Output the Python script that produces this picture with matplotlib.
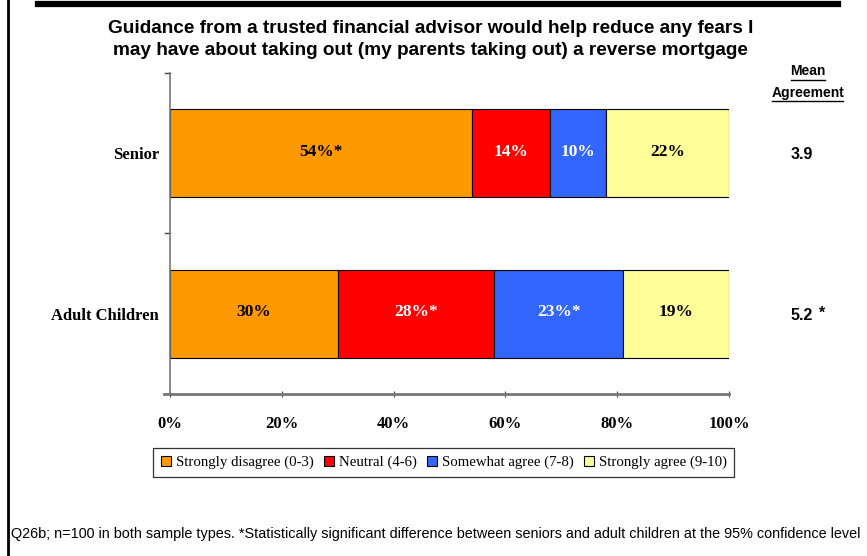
import numpy as np
import matplotlib.pyplot as plt
from matplotlib.lines import Line2D
from matplotlib.patches import Patch

# ---------- Data ----------
groups = ["Adult Children", "Senior"]
series = ["Strongly disagree (0-3)", "Neutral (4-6)", "Somewhat agree (7-8)", "Strongly agree (9-10)"]
values = {
    "Strongly disagree (0-3)": [30, 54],
    "Neutral (4-6)": [28, 14],
    "Somewhat agree (7-8)": [23, 10],
    "Strongly agree (9-10)": [19, 22],
}
# significance markers per segment (adult children, senior)
sig = {
    "Strongly disagree (0-3)": ["", "*"],
    "Neutral (4-6)": ["*", ""],
    "Somewhat agree (7-8)": ["*", ""],
    "Strongly agree (9-10)": ["", ""],
}
mean_agreement = [5.2, 3.9]
mean_sig = ["*", ""]
xticks = [0, 20, 40, 60, 80, 100]

colors = ["#FF9900", "#FF0000", "#3366FF", "#FFFF99"]
text_colors = ["black", "white", "white", "black"]

SERIF = "Liberation Serif"
SANS = "Liberation Sans"

fig = plt.figure(figsize=(8.67, 5.56), dpi=100)
ax = fig.add_axes([0.196, 0.2914, 0.645, 0.5773])

y = np.arange(len(groups))
left = np.zeros(len(groups))
for name, col, tcol in zip(series, colors, text_colors):
    vals = np.array(values[name], dtype=float)
    ax.barh(y, vals, left=left, height=0.55, color=col, edgecolor="black",
            linewidth=0.8, label=name)
    for i, v in enumerate(vals):
        ax.text(left[i] + v / 2, y[i] + 0.01, f"{v:.0f}%{sig[name][i]}", ha="center", va="center",
                fontsize=12.5, fontweight="bold", family=SERIF, color=tcol)
    left += vals

ax.set_xlim(0, 100)
ax.set_ylim(-0.5, 1.5)
ax.set_xticks(xticks)
ax.set_xticklabels([f"{t}%" for t in xticks], fontsize=12, fontweight="bold", family=SERIF)
ax.set_yticks(y)
ax.set_yticklabels(groups, fontsize=12, fontweight="bold", family=SERIF)
ax.tick_params(axis="y", length=0, pad=8)
ax.tick_params(axis="x", length=5, direction="inout", color="#444444", pad=13)

# category boundary ticks on the left axis
for b in [-0.5, 0.5, 1.5]:
    ax.plot([-0.8, 0], [b, b], color="#444444", lw=1, clip_on=False)

for s in ["top", "right"]:
    ax.spines[s].set_visible(False)
ax.spines["left"].set_color("#777777")
ax.spines["left"].set_linewidth(1.2)
ax.spines["bottom"].set_color("#777777")
ax.spines["bottom"].set_linewidth(2)
ax.spines["bottom"].set_bounds(-1, 100)

# mean agreement column
fig.text(0.932, 0.872, "Mean", ha="center", va="center", fontsize=10, fontweight="bold", family=SANS)
fig.text(0.932, 0.833, "Agreement", ha="center", va="center", fontsize=10, fontweight="bold", family=SANS)
fig.add_artist(Line2D([0.912, 0.952], [0.857, 0.857], color="black", lw=1))
fig.add_artist(Line2D([0.891, 0.972], [0.818, 0.818], color="black", lw=1))
for i, m in enumerate(mean_agreement):
    ax.text(1.13, y[i] - 0.01, f"{m:.1f}", transform=ax.get_yaxis_transform(), ha="center", va="center",
            fontsize=11.5, fontweight="bold", family=SANS)
    if mean_sig[i]:
        ax.text(1.16, y[i] - 0.0, mean_sig[i], transform=ax.get_yaxis_transform(), ha="left",
                va="center", fontsize=11.5, fontweight="bold", family=SANS)

# title
fig.text(0.497, 0.949, "Guidance from a trusted financial advisor would help reduce any fears I",
         ha="center", va="center", fontsize=13.7, fontweight="bold", family=SANS)
fig.text(0.497, 0.910, "may have about taking out (my parents taking out) a reverse mortgage",
         ha="center", va="center", fontsize=13.7, fontweight="bold", family=SANS)

# legend
handles = [Patch(facecolor=c, edgecolor="black", linewidth=0.8) for c in colors]
leg = fig.legend(handles, series, loc="center", bbox_to_anchor=(0.512, 0.168), ncol=4,
                 frameon=True, fancybox=False, edgecolor="black", borderpad=0.5,
                 handlelength=0.7, handleheight=0.7, handletextpad=0.3, columnspacing=0.7,
                 prop={"family": SERIF, "size": 10.7})
leg.get_frame().set_linewidth(0.9)

# footnote
fig.text(0.013, 0.040, "Q26b; n=100 in both sample types. *Statistically significant difference between "
         "seniors and adult children at the 95% confidence level",
         ha="left", va="center", fontsize=10.4, family=SANS)

# frame decorations
fig.add_artist(Line2D([0.0095, 0.0095], [0, 1], color="black", lw=2))
fig.add_artist(Line2D([0.044, 0.967], [0.992, 0.992], color="black", lw=4.5))

fig.savefig("out.png", dpi=100)
